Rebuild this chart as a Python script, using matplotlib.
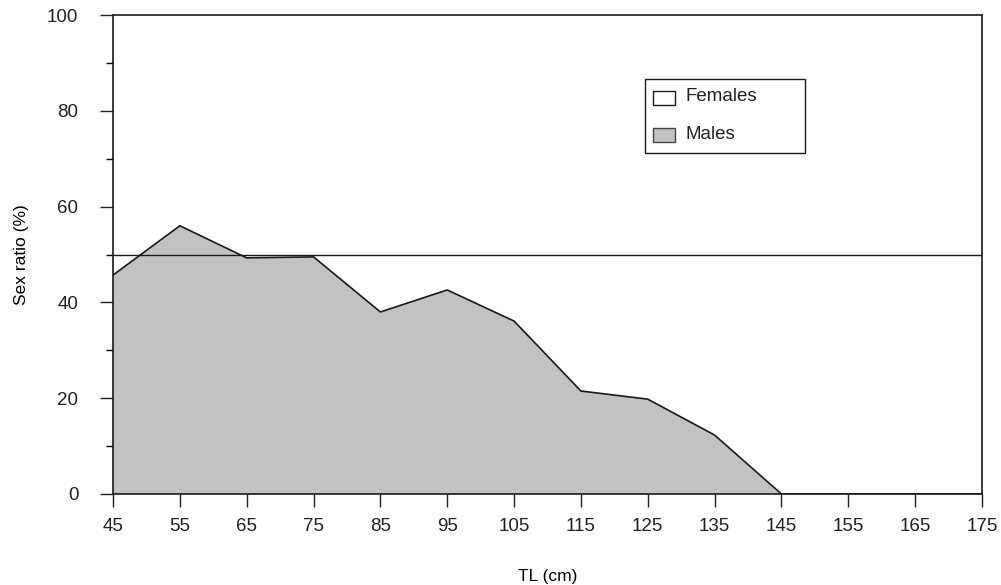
import numpy as np
import matplotlib.pyplot as plt
from matplotlib.patches import Rectangle

plt.rcParams['font.family'] = ['Liberation Sans', 'DejaVu Sans']

tl = [45, 55, 65, 75, 85, 95, 105, 115, 125, 135, 145, 155, 165, 175]
males = [45.7, 56.0, 49.3, 49.5, 38.0, 42.6, 36.1, 21.5, 19.8, 12.3, 0, 0, 0, 0]
half = 50
male_color = '#c2c2c2'

fig = plt.figure(figsize=(10.01, 5.85), dpi=100)
ax = fig.add_axes([113/1001, 1 - 494/585, 869/1001, 479/585])

ax.fill_between(tl, males, 100, facecolor='white', edgecolor='none')
ax.fill_between(tl, 0, males, facecolor=male_color, edgecolor='none')
ax.plot(tl, males, color='#1a1a1a', lw=1.2)
ax.axhline(half, color='#1a1a1a', lw=1.0)

ax.set_xlim(45, 175)
ax.set_ylim(0, 100)
ax.set_xticks(tl)
ax.set_yticks(np.arange(0, 101, 20))
ax.set_yticks(np.arange(10, 100, 20), minor=True)
ax.tick_params(axis='both', direction='out', length=9.5, width=1, labelsize=13.5, colors='#222222')
ax.tick_params(axis='y', which='minor', direction='out', length=5, width=1)
ax.tick_params(axis='x', pad=7.5)
ax.tick_params(axis='y', pad=15.5)
for s in ax.spines.values():
    s.set_linewidth(1.2)
    s.set_color('#1a1a1a')

ax.set_xlabel('TL (cm)', fontsize=12.5, labelpad=25)
ax.set_ylabel('Sex ratio (%)', fontsize=12.5, labelpad=13)

# legend box drawn by hand (box is wider than its content)
tr = ax.transAxes
ax.add_patch(Rectangle((0.6122, 0.7119), 0.1841, 0.1545, transform=tr,
                       facecolor='white', edgecolor='#1a1a1a', lw=1.0, zorder=5))
ax.add_patch(Rectangle((0.6215, 0.8120), 0.0255, 0.0295, transform=tr,
                       facecolor='white', edgecolor='#1a1a1a', lw=1.0, zorder=6))
ax.add_patch(Rectangle((0.6215, 0.7355), 0.0255, 0.0295, transform=tr,
                       facecolor=male_color, edgecolor='#444444', lw=1.0, zorder=6))
ax.text(0.6585, 0.8300, 'Females', transform=tr, fontsize=13.5, va='center',
        color='#222222', zorder=7)
ax.text(0.6585, 0.7500, 'Males', transform=tr, fontsize=13.5, va='center',
        color='#222222', zorder=7)

fig.savefig('out.png', dpi=100)
